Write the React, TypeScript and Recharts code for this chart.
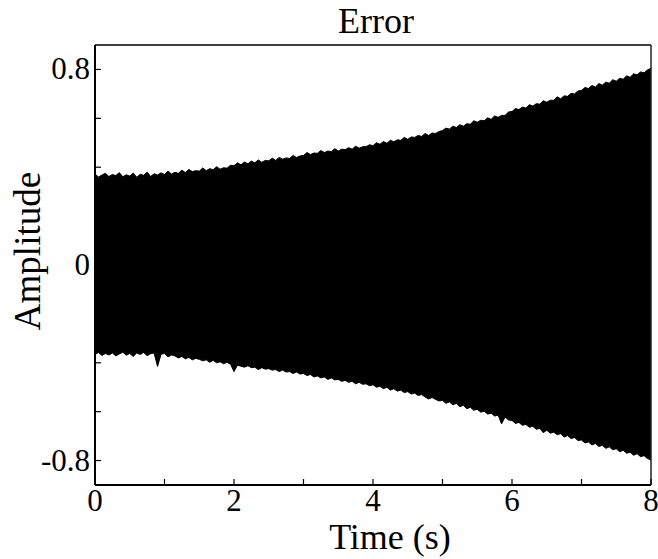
import React from 'react';
import { ComposedChart, Area, XAxis, YAxis, ReferenceLine, Customized } from 'recharts';

// Sampling step of the envelope readings (seconds)
const STEP = 0.05;

// Upper envelope of the error signal (t = 0 .. 8 s)
const upperEnvelope = [
  0.372, 0.360, 0.368, 0.375, 0.362, 0.370, 0.366, 0.378, 0.361, 0.369, 0.364, 0.376, 0.359, 0.371, 0.367, 0.380, 0.362, 0.373, 0.368, 0.377,
  0.370, 0.384, 0.372, 0.379, 0.375, 0.388, 0.378, 0.391, 0.382, 0.386, 0.384, 0.397, 0.386, 0.394, 0.390, 0.402, 0.392, 0.398, 0.396, 0.408,
  0.406, 0.418, 0.410, 0.421, 0.414, 0.425, 0.418, 0.430, 0.420, 0.428, 0.426, 0.437, 0.428, 0.440, 0.433, 0.438, 0.436, 0.448, 0.440, 0.446,
  0.448, 0.460, 0.452, 0.458, 0.457, 0.468, 0.460, 0.466, 0.464, 0.476, 0.466, 0.474, 0.472, 0.480, 0.474, 0.486, 0.478, 0.484, 0.484, 0.492,
  0.488, 0.500, 0.494, 0.505, 0.498, 0.510, 0.504, 0.512, 0.510, 0.522, 0.514, 0.524, 0.522, 0.530, 0.526, 0.538, 0.530, 0.540, 0.538, 0.546,
  0.550, 0.560, 0.556, 0.568, 0.562, 0.574, 0.568, 0.578, 0.576, 0.590, 0.584, 0.592, 0.590, 0.602, 0.596, 0.610, 0.604, 0.612, 0.612, 0.626,
  0.628, 0.640, 0.636, 0.646, 0.642, 0.656, 0.650, 0.660, 0.658, 0.672, 0.666, 0.674, 0.674, 0.688, 0.680, 0.692, 0.690, 0.702, 0.700, 0.712,
  0.714, 0.726, 0.722, 0.734, 0.728, 0.742, 0.736, 0.748, 0.744, 0.758, 0.752, 0.764, 0.760, 0.774, 0.768, 0.782, 0.778, 0.790, 0.786, 0.798, 0.805,
];

// Lower envelope of the error signal (t = 0 .. 8 s)
const lowerEnvelope = [
  -0.366, -0.358, -0.370, -0.362, -0.368, -0.360, -0.372, -0.364, -0.357, -0.369, -0.362, -0.374, -0.360, -0.366, -0.358, -0.371, -0.363, -0.360, -0.415, -0.365,
  -0.362, -0.376, -0.368, -0.372, -0.380, -0.374, -0.384, -0.378, -0.388, -0.382, -0.386, -0.392, -0.388, -0.398, -0.390, -0.400, -0.396, -0.404, -0.398, -0.406,
  -0.436, -0.410, -0.414, -0.418, -0.412, -0.420, -0.418, -0.428, -0.420, -0.426, -0.424, -0.430, -0.428, -0.436, -0.430, -0.438, -0.436, -0.444, -0.438, -0.446,
  -0.444, -0.452, -0.448, -0.458, -0.454, -0.462, -0.458, -0.468, -0.462, -0.470, -0.468, -0.476, -0.472, -0.480, -0.476, -0.486, -0.480, -0.488, -0.486, -0.494,
  -0.490, -0.500, -0.496, -0.506, -0.500, -0.512, -0.506, -0.516, -0.512, -0.522, -0.518, -0.528, -0.524, -0.534, -0.530, -0.540, -0.548, -0.542, -0.550, -0.556,
  -0.554, -0.566, -0.560, -0.572, -0.566, -0.580, -0.574, -0.588, -0.582, -0.594, -0.590, -0.602, -0.598, -0.610, -0.606, -0.618, -0.614, -0.650, -0.622, -0.634,
  -0.636, -0.648, -0.644, -0.656, -0.652, -0.664, -0.660, -0.672, -0.668, -0.686, -0.676, -0.688, -0.684, -0.694, -0.690, -0.704, -0.698, -0.710, -0.706, -0.718,
  -0.716, -0.728, -0.724, -0.736, -0.730, -0.742, -0.738, -0.750, -0.744, -0.756, -0.752, -0.764, -0.758, -0.770, -0.766, -0.778, -0.772, -0.784, -0.780, -0.792, -0.798,
];

const xTicks = [0, 1, 2, 3, 4, 5, 6, 7, 8];
const xTickLabels = ['0', '', '2', '', '4', '', '6', '', '8'];
const yTicks = [-0.8, -0.6, -0.4, -0.2, 0, 0.2, 0.4, 0.6, 0.8];
const yTickLabels = ['-0.8', '', '', '', '0', '', '', '', '0.8'];

const data = upperEnvelope.map((hi, i) => ({
  t: Math.round(i * STEP * 100) / 100,
  range: [lowerEnvelope[i], hi],
}));

const FONT = '"Liberation Serif", "Times New Roman", serif';

const XTick = (props: any) => {
  const { x, y, payload } = props;
  const idx = xTicks.indexOf(payload.value);
  const label = idx >= 0 ? xTickLabels[idx] : '';
  return (
    <g>
      <line x1={x} x2={x} y1={y} y2={y - 6} stroke="#000" strokeWidth={1.2} />
      {label && (
        <text x={x} y={y + 26} textAnchor="middle" fontFamily={FONT} fontSize={31} fill="#000">
          {label}
        </text>
      )}
    </g>
  );
};

const YTick = (props: any) => {
  const { x, y, payload } = props;
  const idx = yTicks.findIndex((v) => Math.abs(v - payload.value) < 1e-9);
  const label = idx >= 0 ? yTickLabels[idx] : '';
  return (
    <g>
      <line x1={x} x2={x + 6} y1={y} y2={y} stroke="#000" strokeWidth={1.2} />
      {label && (
        <text x={x - 5} y={y + 10} textAnchor="end" fontFamily={FONT} fontSize={31} fill="#000">
          {label}
        </text>
      )}
    </g>
  );
};

const Titles = () => (
  <g>
    <text x={376} y={33} textAnchor="middle" fontFamily={FONT} fontSize={36} fill="#000">
      Error
    </text>
    <text x={390} y={549} textAnchor="middle" fontFamily={FONT} fontSize={36} fill="#000">
      Time (s)
    </text>
    <text
      x={40}
      y={251}
      textAnchor="middle"
      fontFamily={FONT}
      fontSize={37}
      fill="#000"
      transform="rotate(-90 40 251)"
    >
      Amplitude
    </text>
  </g>
);

export default function App() {
  return (
    <div style={{ position: 'absolute', left: 0, top: 0, width: 658, height: 559, background: '#fff' }}>
      <ComposedChart
        width={658}
        height={559}
        data={data}
        margin={{ top: 45, right: 7, bottom: 0, left: 0 }}
      >
        <Area
          dataKey="range"
          type="linear"
          fill="#000"
          fillOpacity={1}
          stroke="#000"
          strokeWidth={1}
          isAnimationActive={false}
          dot={false}
          activeDot={false}
        />
        <ReferenceLine y={0.9} stroke="#000" strokeWidth={1.5} />
        <ReferenceLine x={8} stroke="#222" strokeWidth={1.5} />
        <XAxis
          dataKey="t"
          type="number"
          domain={[0, 8]}
          ticks={xTicks}
          interval={0}
          height={74}
          tickLine={false}
          tickSize={0}
          tickMargin={0}
          tick={<XTick />}
          axisLine={{ stroke: '#000', strokeWidth: 2 }}
          allowDataOverflow
        />
        <YAxis
          type="number"
          domain={[-0.9, 0.9]}
          ticks={yTicks}
          interval={0}
          width={95}
          tickLine={false}
          tickSize={0}
          tickMargin={0}
          tick={<YTick />}
          axisLine={{ stroke: '#000', strokeWidth: 2 }}
          allowDataOverflow
        />
        <Customized component={Titles} />
      </ComposedChart>
    </div>
  );
}
